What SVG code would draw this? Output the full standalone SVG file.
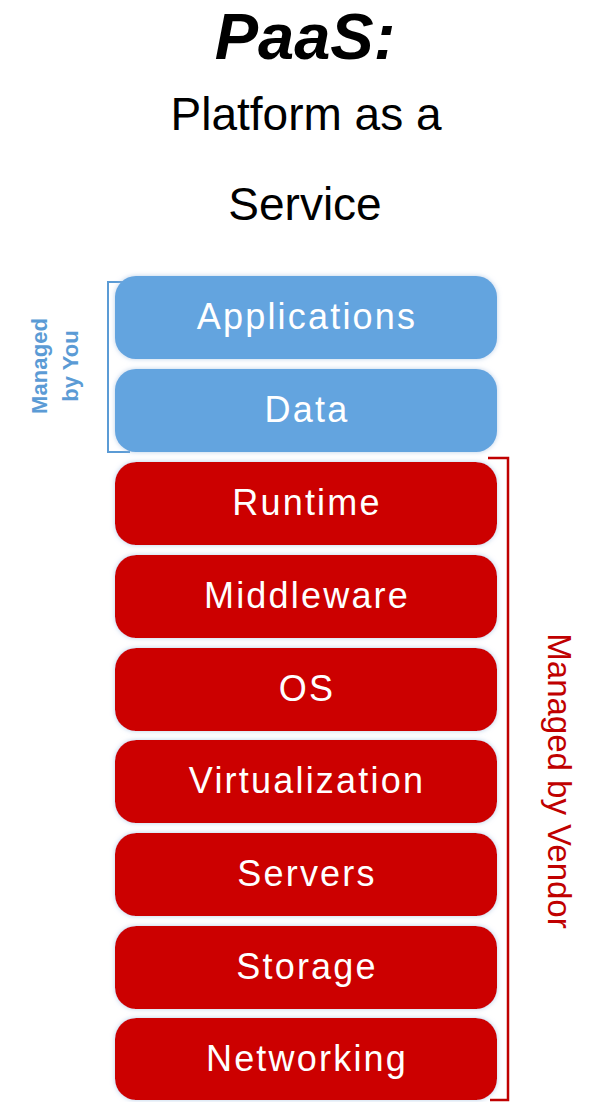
<svg xmlns="http://www.w3.org/2000/svg" width="595" height="1102" viewBox="0 0 595 1102">
<style>
.title{font-family:"Liberation Sans",Arial,sans-serif;fill:#000;text-anchor:middle}
.box-blue{fill:#63a4df}
.box-red{fill:#cc0505}
.lbl{font-family:"Liberation Sans",Arial,sans-serif;font-size:36px;fill:#fff;text-anchor:middle;letter-spacing:2.2px}
.side-you{font-family:"Liberation Sans",Arial,sans-serif;font-size:22px;font-weight:bold;fill:#5b9bd5;text-anchor:middle}
.side-vendor{font-family:"Liberation Sans",Arial,sans-serif;font-size:33px;fill:#c00000;text-anchor:middle}
</style>
<defs>
<filter id="glow" x="-10%" y="-20%" width="120%" height="140%">
<feDropShadow dx="0" dy="0" stdDeviation="2.5" flood-color="#9dbbe0" flood-opacity="0.7"/>
</filter>
</defs>
<rect width="595" height="1102" fill="#fff"/>
<g id="title">
<text class="title" x="305" y="59" font-size="65" font-weight="bold" font-style="italic">PaaS:</text>
<text class="title" x="306" y="130" font-size="46">Platform as a</text>
<text class="title" x="305" y="220" font-size="46">Service</text>
</g>
<g id="connectors">
<path d="M130,282 H108 V452 H130" fill="none" stroke="#5b9bd5" stroke-width="2"/>
<path d="M488,458 H508 V1100 H490" fill="none" stroke="#c00000" stroke-width="2.5"/>
</g>
<g id="side-labels">
<text class="side-you" transform="translate(47,366) rotate(-90)" textLength="96" lengthAdjust="spacing">Managed</text>
<text class="side-you" transform="translate(78,366) rotate(-90)">by You</text>
<text class="side-vendor" transform="translate(548,781) rotate(90)">Managed by Vendor</text>
</g>
<g id="n-applications"><rect class="box-blue" filter="url(#glow)" x="115" y="276" width="382" height="83" rx="21"/><text class="lbl" x="307" y="329">Applications</text></g>
<g id="n-data"><rect class="box-blue" filter="url(#glow)" x="115" y="369" width="382" height="83" rx="21"/><text class="lbl" x="307" y="422">Data</text></g>
<g id="n-runtime"><rect class="box-red" filter="url(#glow)" x="115" y="462" width="382" height="83" rx="21"/><text class="lbl" x="307" y="515">Runtime</text></g>
<g id="n-middleware"><rect class="box-red" filter="url(#glow)" x="115" y="555" width="382" height="83" rx="21"/><text class="lbl" x="307" y="608">Middleware</text></g>
<g id="n-os"><rect class="box-red" filter="url(#glow)" x="115" y="648" width="382" height="83" rx="21"/><text class="lbl" x="307" y="701">OS</text></g>
<g id="n-virtualization"><rect class="box-red" filter="url(#glow)" x="115" y="740" width="382" height="83" rx="21"/><text class="lbl" x="307" y="793">Virtualization</text></g>
<g id="n-servers"><rect class="box-red" filter="url(#glow)" x="115" y="833" width="382" height="83" rx="21"/><text class="lbl" x="307" y="886">Servers</text></g>
<g id="n-storage"><rect class="box-red" filter="url(#glow)" x="115" y="926" width="382" height="83" rx="21"/><text class="lbl" x="307" y="979">Storage</text></g>
<g id="n-networking"><rect class="box-red" filter="url(#glow)" x="115" y="1018" width="382" height="82" rx="21"/><text class="lbl" x="307" y="1071">Networking</text></g>
</svg>
